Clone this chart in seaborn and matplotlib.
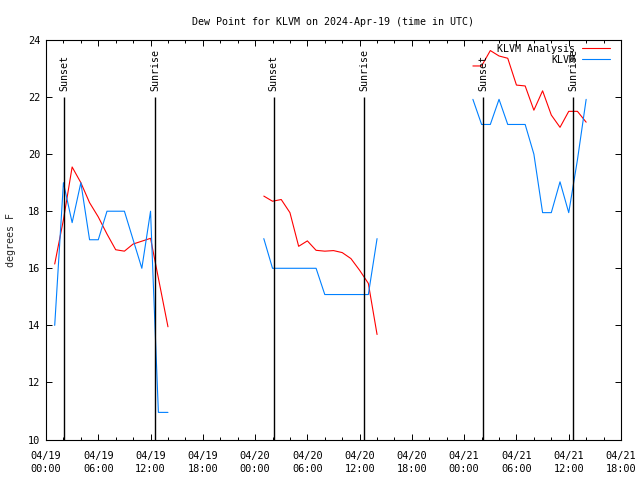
import matplotlib
matplotlib.use('Agg')
import matplotlib.pyplot as plt
import matplotlib.dates as mdates
import pandas as pd
import seaborn as sns

# hours after 2024-04-19 00:00 UTC
start = pd.Timestamp('2024-04-19 00:00')

analysis_hours_1 = [1, 2, 3, 4, 5, 6, 7, 8, 9, 10, 11, 12, 13, 14]
analysis_vals_1 = [16.15, 17.7, 19.55, 19.0, 18.3, 17.8, 17.2, 16.65, 16.6, 16.85, 16.95, 17.05, 15.5, 13.95]
analysis_hours_2 = [25, 26, 27, 28, 29, 30, 31, 32, 33, 34, 35, 36, 37, 38]
analysis_vals_2 = [18.53, 18.35, 18.41, 17.95, 16.77, 16.96, 16.63, 16.6, 16.62, 16.55, 16.34, 15.93, 15.47, 13.68]
analysis_hours_3 = [49, 50, 51, 52, 53, 54, 55, 56, 57, 58, 59, 60, 61, 62]
analysis_vals_3 = [23.09, 23.09, 23.63, 23.44, 23.36, 22.42, 22.39, 21.54, 22.22, 21.37, 20.94, 21.5, 21.5, 21.12]

obs_hours_1 = [1, 2, 3, 4, 5, 6, 7, 8, 9, 10, 11, 12, 12.3, 12.9, 14]
obs_vals_1 = [14.0, 19.0, 17.6, 19.0, 17.0, 17.0, 18.0, 18.0, 18.0, 17.0, 16.0, 18.0, 15.6, 10.95, 10.95]
obs_hours_2 = [25, 26, 27, 28, 29, 30, 31, 32, 33, 34, 35, 36, 37, 38]
obs_vals_2 = [17.04, 16.0, 16.0, 16.0, 16.0, 16.0, 16.0, 15.08, 15.08, 15.08, 15.08, 15.08, 15.08, 17.04]
obs_hours_3 = [49, 50, 51, 52, 53, 54, 55, 56, 57, 58, 59, 60, 61, 62]
obs_vals_3 = [21.92, 21.04, 21.04, 21.92, 21.04, 21.04, 21.04, 20.0, 17.95, 17.95, 19.03, 17.95, 19.8, 21.92]

sunset_hours = [2.12, 26.15, 50.18]
sunrise_hours = [12.55, 36.52, 60.48]

series_names = ['KLVM Analysis', 'KLVM']
series_colors = {'KLVM Analysis': '#ff0000', 'KLVM': '#0080ff'}

segments = [
    ('KLVM Analysis', analysis_hours_1, analysis_vals_1),
    ('KLVM Analysis', analysis_hours_2, analysis_vals_2),
    ('KLVM Analysis', analysis_hours_3, analysis_vals_3),
    ('KLVM', obs_hours_1, obs_vals_1),
    ('KLVM', obs_hours_2, obs_vals_2),
    ('KLVM', obs_hours_3, obs_vals_3),
]
rows = []
for seg_id, (name, hours, vals) in enumerate(segments):
    for h, v in zip(hours, vals):
        rows.append({'series': name, 'segment': seg_id,
                     'time': start + pd.Timedelta(hours=h), 'dewpoint': v})
df = pd.DataFrame(rows)

sns.set_theme(style='ticks')
plt.rcParams['font.family'] = ['DejaVu Sans Mono']
plt.rcParams['font.size'] = 7.2
plt.rcParams['xtick.direction'] = 'in'
plt.rcParams['ytick.direction'] = 'in'
plt.rcParams['xtick.top'] = True
plt.rcParams['ytick.right'] = True
plt.rcParams['axes.linewidth'] = 0.8
plt.rcParams['text.color'] = 'black'
plt.rcParams['xtick.color'] = 'black'
plt.rcParams['ytick.color'] = 'black'
plt.rcParams['axes.edgecolor'] = 'black'

fig = plt.figure(figsize=(6.4, 4.8), dpi=100)
ax = fig.add_axes([46 / 640, 1 - 439.5 / 480, 575 / 640, 399.5 / 480])

sns.lineplot(data=df, x='time', y='dewpoint', hue='series', hue_order=series_names,
             units='segment', estimator=None, palette=series_colors,
             linewidth=0.8, ax=ax)

sun_top = 22
for h in sunset_hours:
    t = start + pd.Timedelta(hours=h)
    ax.vlines(t, 10, sun_top, color='black', linewidth=1.0)
    ax.text(t, 22.2, 'Sunset', rotation=90, ha='center', va='bottom', fontsize=7.2)
for h in sunrise_hours:
    t = start + pd.Timedelta(hours=h)
    ax.vlines(t, 10, sun_top, color='black', linewidth=1.0)
    ax.text(t, 22.2, 'Sunrise', rotation=90, ha='center', va='bottom', fontsize=7.2)

ax.set_xlim(start, start + pd.Timedelta(hours=66))
ax.set_ylim(10, 24)
ax.set_yticks([10, 12, 14, 16, 18, 20, 22, 24])
ax.xaxis.set_major_locator(mdates.HourLocator(byhour=[0, 6, 12, 18]))
ax.xaxis.set_minor_locator(mdates.HourLocator(byhour=range(0, 24, 2)))
ax.xaxis.set_major_formatter(mdates.DateFormatter('%m/%d\n%H:%M'))
ax.tick_params(which='major', length=4, width=0.7, labelsize=7.4)
ax.tick_params(axis='x', which='major', pad=8)
ax.tick_params(axis='y', which='major', pad=4)
ax.tick_params(which='minor', length=2.5, width=0.7)

ax.set_xlabel('')
ax.set_ylabel('degrees F', fontsize=7.2)
ax.yaxis.set_label_coords(-0.052, 0.5)
ax.set_title('Dew Point for KLVM on 2024-Apr-19 (time in UTC)', fontsize=7.2, pad=11)

handles, labels = ax.get_legend_handles_labels()
ax.legend(handles, labels, loc='upper right', bbox_to_anchor=(0.981, 0.99),
          frameon=False, markerfirst=False, borderpad=0, borderaxespad=0,
          handlelength=2.8, handletextpad=0.7, labelspacing=0.1, fontsize=7.2)

fig.canvas.draw()
for lbl in ax.get_xticklabels():
    lbl.set_linespacing(1.45)

fig.savefig('out.png', dpi=100)
